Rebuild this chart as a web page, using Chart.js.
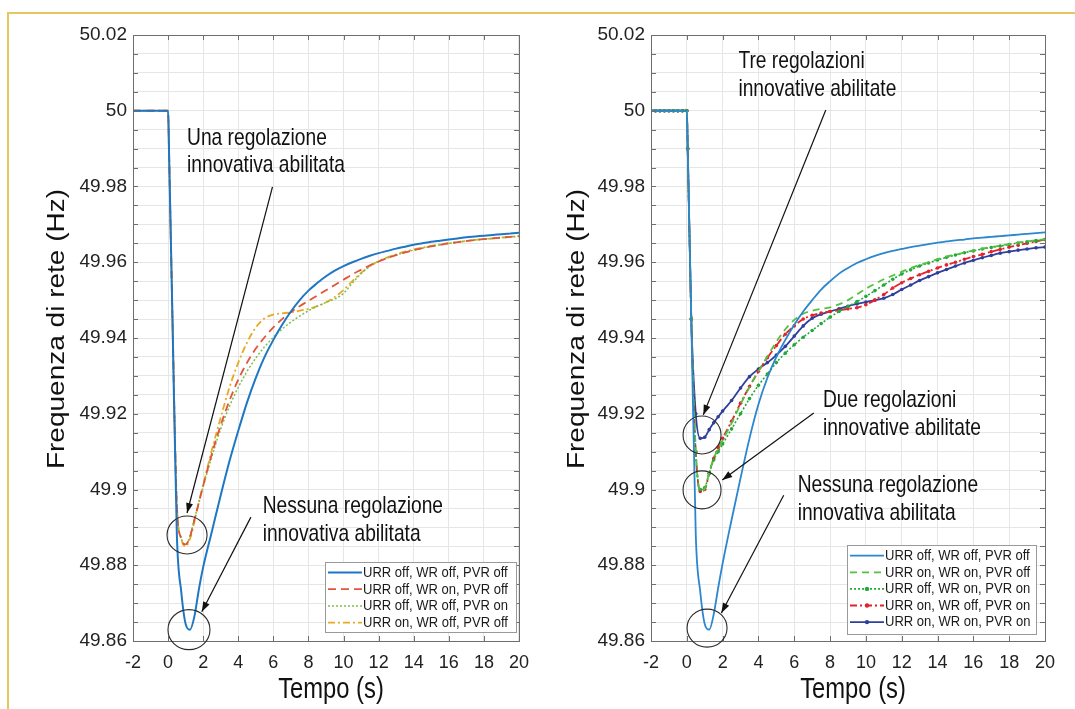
<!DOCTYPE html>
<html><head><meta charset="utf-8">
<script src="https://cdn.jsdelivr.net/npm/chart.js@4.4.1/dist/chart.umd.min.js"></script>
<style>
html,body{margin:0;padding:0;background:#fff;width:1075px;height:709px;overflow:hidden;position:relative;}
#frame{position:absolute;left:7px;top:12px;width:1080px;height:720px;border-top:2px solid #e5c75e;border-left:2px solid #e5c75e;}
#c1{position:absolute;left:0;top:0;}
#c2{position:absolute;left:518px;top:0;}
</style></head><body>
<div id="frame"></div>
<canvas id="c1" width="540" height="709"></canvas>
<canvas id="c2" width="557" height="709"></canvas>
<script>
// ---------------- DATA ----------------
const T = [-2,-1.75,-1.5,-1.25,-1,-0.75,-0.5,-0.25,0,0.05,0.25,0.5,0.75,1,1.25,1.5,1.75,2,2.5,3,3.5,4,4.5,5,5.5,6,6.5,7,7.5,8,8.5,9,9.5,10,10.5,11,11.5,12,12.5,13,13.5,14,14.5,15,15.5,16,16.5,17,17.5,18,18.5,19,19.5,20];
const PRE = [50,50,50,50,50,50,50,50,50];

// Left panel
const leftBlue = PRE.concat([49.99,49.945,49.888,49.873,49.8645,49.863,49.8665,49.8735,49.8795,49.889,49.8985,49.9075,49.9155,49.923,49.9295,49.935,49.9395,49.9435,49.947,49.95,49.9525,49.9545,49.9563,49.9578,49.959,49.96,49.9609,49.9617,49.9624,49.963,49.9636,49.9641,49.9646,49.965,49.9654,49.9657,49.966,49.9663,49.9666,49.9668,49.967,49.9672,49.9674,49.9676,49.9678]);
const leftRed = PRE.concat([49.99,49.945,49.896,49.887,49.8855,49.8875,49.892,49.8965,49.901,49.9095,49.917,49.9235,49.929,49.9335,49.9372,49.9402,49.9428,49.945,49.9468,49.9484,49.9498,49.9512,49.9526,49.954,49.9554,49.9568,49.958,49.9592,49.9602,49.9611,49.9619,49.9626,49.9632,49.9637,49.9642,49.9646,49.965,49.9653,49.9656,49.9659,49.9661,49.9663,49.9665,49.9667,49.9669]);
const leftGreen = PRE.concat([49.99,49.945,49.896,49.8872,49.8855,49.8878,49.8922,49.8965,49.9008,49.9088,49.916,49.922,49.927,49.9312,49.9347,49.9377,49.9402,49.9424,49.9442,49.9458,49.9472,49.9484,49.9494,49.9503,49.9518,49.9545,49.957,49.9589,49.9602,49.9611,49.9619,49.9626,49.9632,49.9637,49.9642,49.9646,49.965,49.9653,49.9656,49.9659,49.9661,49.9663,49.9665,49.9667,49.9668]);
const leftOrange = PRE.concat([49.99,49.945,49.896,49.887,49.885,49.887,49.8915,49.8965,49.9012,49.9105,49.919,49.927,49.9335,49.9388,49.9428,49.9452,49.9462,49.9465,49.9468,49.9472,49.9477,49.9484,49.9494,49.9508,49.9527,49.955,49.9572,49.959,49.9603,49.9613,49.9621,49.9628,49.9634,49.9639,49.9643,49.9647,49.965,49.9653,49.9656,49.9659,49.9661,49.9663,49.9665,49.9667,49.9669]);

// Right panel
const rightBlue = PRE.concat([49.99,49.945,49.888,49.873,49.8645,49.863,49.867,49.874,49.8805,49.892,49.903,49.9135,49.9225,49.9295,49.935,49.9395,49.9435,49.947,49.95,49.9528,49.955,49.957,49.9585,49.9598,49.9608,49.9617,49.9624,49.963,49.9635,49.964,49.9644,49.9648,49.9652,49.9655,49.9658,49.966,49.9663,49.9665,49.9667,49.9669,49.9671,49.9673,49.9675,49.9677,49.9679]);
const rightGreenDash = PRE.concat([49.99,49.945,49.91,49.8995,49.9002,49.9045,49.9082,49.9108,49.913,49.9175,49.9225,49.927,49.9312,49.9352,49.939,49.9423,49.9448,49.9464,49.9472,49.9477,49.9481,49.9489,49.95,49.9515,49.953,49.9543,49.9555,49.9565,49.9575,49.9585,49.9593,49.96,49.9608,49.9615,49.962,49.9626,49.9631,49.9636,49.964,49.9644,49.9648,49.9652,49.9655,49.9658,49.9661]);
const rightGreenDot = PRE.concat([49.99,49.945,49.91,49.9,49.9005,49.9042,49.9078,49.91,49.912,49.916,49.92,49.924,49.9275,49.9305,49.9335,49.936,49.9382,49.9402,49.942,49.9438,49.9455,49.947,49.9483,49.9496,49.951,49.9525,49.954,49.9555,49.9569,49.958,49.959,49.9598,49.9606,49.9613,49.9619,49.9625,49.963,49.9635,49.9639,49.9643,49.9647,49.9651,49.9654,49.9657,49.966]);
const rightRed = PRE.concat([49.99,49.945,49.91,49.8995,49.9,49.9042,49.9082,49.911,49.9135,49.918,49.9228,49.9272,49.9312,49.9348,49.938,49.941,49.9432,49.945,49.946,49.9466,49.947,49.9473,49.9477,49.948,49.9488,49.95,49.9515,49.9532,49.9546,49.9557,49.9567,49.9576,49.9585,49.9593,49.96,49.9608,49.9615,49.9621,49.9628,49.9634,49.964,49.9645,49.965,49.9655,49.966]);
const rightNavy = PRE.concat([49.99,49.945,49.92,49.9135,49.9138,49.9158,49.9176,49.9192,49.9207,49.9235,49.9268,49.9298,49.9318,49.9335,49.9355,49.9378,49.9405,49.9432,49.9452,49.9463,49.947,49.9477,49.9484,49.949,49.9495,49.95,49.9505,49.9515,49.9528,49.954,49.9552,49.9562,49.9572,49.9581,49.959,49.9598,49.9605,49.9612,49.9618,49.9624,49.9628,49.9632,49.9635,49.9638,49.964]);

const xTicks = {min:-2, max:20, step:2};
const yTicks = {min:49.86, max:50.02, minorStep:0.005, labelStep:0.02};

const leftLabels = ['URR off, WR off, PVR off','URR off, WR on, PVR off','URR off, WR off, PVR on','URR on, WR off, PVR off'];
const rightLabels = ['URR off, WR off, PVR off','URR on, WR on, PVR off','URR off, WR on, PVR on','URR on, WR off, PVR on','URR on, WR on, PVR on'];

const xTitle = 'Tempo (s)';
const yTitle = 'Frequenza di rete (Hz)';

// ---------------- HELPERS ----------------
const SANS = "'Liberation Sans',Arial,Helvetica,sans-serif";
function pts(v){ return T.map((t,i)=>({x:t,y:v[i]})); }
function ds(label, v, color, dash, width, dot){
  return {label, data: pts(v), borderColor: color, backgroundColor: color, borderDash: dash, borderWidth: width,
    pointRadius: dot ? 1.8 : 0, pointHoverRadius: 0, pointBorderWidth: 0, pointBackgroundColor: color,
    cubicInterpolationMode: 'monotone', fill: false};
}
// condensed text: real text, horizontally compressed
function narrowText(ctx, s, x, y, size, sx){
  ctx.save(); ctx.translate(x,y); ctx.scale(sx,1); ctx.font=size+'px '+SANS; ctx.fillText(s,0,0); ctx.restore();
}
function drawArrow(ctx,x1,y1,x2,y2){
  ctx.beginPath(); ctx.moveTo(x1,y1); ctx.lineTo(x2,y2); ctx.stroke();
  const a=Math.atan2(y2-y1,x2-x1), L=10, W=3.5;
  ctx.beginPath(); ctx.moveTo(x2,y2);
  ctx.lineTo(x2-L*Math.cos(a)+W*Math.sin(a), y2-L*Math.sin(a)-W*Math.cos(a));
  ctx.lineTo(x2-L*Math.cos(a)-W*Math.sin(a), y2-L*Math.sin(a)+W*Math.cos(a));
  ctx.closePath(); ctx.fill();
}

function decor(cfg){
  return {
    id:'decor',
    afterDatasetsDraw(chart){
      const ctx=chart.ctx, xs=chart.scales.x, ys=chart.scales.y, a=chart.chartArea;
      ctx.save();
      // axis box + inward ticks
      ctx.strokeStyle='#6e6e6e'; ctx.lineWidth=1;
      ctx.strokeRect(Math.round(a.left)+0.5, Math.round(a.top)+0.5, Math.round(a.right-a.left), Math.round(a.bottom-a.top));
      ctx.beginPath();
      xs.ticks.forEach(t=>{const p=Math.round(xs.getPixelForValue(t.value))+0.5;
        ctx.moveTo(p,a.bottom); ctx.lineTo(p,a.bottom-5); ctx.moveTo(p,a.top); ctx.lineTo(p,a.top+5);});
      ys.ticks.forEach(t=>{const p=Math.round(ys.getPixelForValue(t.value))+0.5;
        ctx.moveTo(a.left,p); ctx.lineTo(a.left+5,p); ctx.moveTo(a.right,p); ctx.lineTo(a.right-5,p);});
      ctx.stroke();
      // circles
      ctx.strokeStyle='#2a2a2a'; ctx.fillStyle='#111'; ctx.lineWidth=1.1;
      cfg.circles.forEach(c=>{ctx.beginPath(); ctx.ellipse(xs.getPixelForValue(c.x), ys.getPixelForValue(c.y), c.rx, c.ry, 0, 0, Math.PI*2); ctx.stroke();});
      // arrows
      ctx.strokeStyle='#111'; ctx.lineWidth=1.2;
      cfg.arrows.forEach(r=>drawArrow(ctx, xs.getPixelForValue(r.x1), ys.getPixelForValue(r.y1), xs.getPixelForValue(r.x2), ys.getPixelForValue(r.y2)));
      // annotation texts
      ctx.fillStyle='#111'; ctx.textAlign='left'; ctx.textBaseline='alphabetic';
      cfg.texts.forEach(t=>{const x=xs.getPixelForValue(t.x), y=ys.getPixelForValue(t.y);
        t.lines.forEach((ln,i)=>narrowText(ctx, ln, x, y+i*t.lh, 24, 0.8));});
      // axis titles
      ctx.fillStyle='#111'; ctx.textAlign='center'; ctx.textBaseline='middle';
      narrowText(ctx, xTitle, (a.left+a.right)/2 + 5, cfg.xTitleY, 29, 0.82);
      ctx.save(); ctx.translate(cfg.yTitleX, (a.top+a.bottom)/2 - 9); ctx.rotate(-Math.PI/2); ctx.scale(1,0.85);
      ctx.font='28px '+SANS; ctx.fillText(yTitle,0,0); ctx.restore();
      // legend
      const L=cfg.legend;
      const bx=a.right-L.dr-L.w, by=a.bottom-L.db-L.h;
      ctx.fillStyle='#fff'; ctx.fillRect(bx,by,L.w,L.h);
      ctx.strokeStyle='#9a9a9a'; ctx.lineWidth=1; ctx.strokeRect(Math.round(bx)+0.5,Math.round(by)+0.5,L.w,L.h);
      ctx.textAlign='left'; ctx.textBaseline='middle';
      chart.data.datasets.forEach((d,i)=>{
        const yy=by+L.first+i*L.pitch;
        ctx.save(); ctx.strokeStyle=d.borderColor; ctx.lineWidth=d.borderWidth; ctx.setLineDash(d.borderDash||[]);
        ctx.beginPath(); ctx.moveTo(bx+3,yy); ctx.lineTo(bx+37,yy); ctx.stroke(); ctx.restore();
        if(d.pointRadius>0){ctx.fillStyle=d.borderColor; ctx.beginPath(); ctx.arc(bx+20,yy,2.2,0,Math.PI*2); ctx.fill();}
        ctx.fillStyle='#1a1a1a'; narrowText(ctx, d.label, bx+38, yy+0.5, 14, 0.93);
      });
      ctx.restore();
    }
  };
}

function options(rightPad){
  return {
    responsive:false, animation:false, devicePixelRatio:1,
    layout:{padding:{left:0,right:rightPad,top:35,bottom:0}},
    plugins:{legend:{display:false}, tooltip:{enabled:false}},
    scales:{
      x:{type:'linear', min:xTicks.min, max:xTicks.max,
        afterFit(s){s.height=68;},
        ticks:{stepSize:xTicks.step, autoSkip:false, maxRotation:0, padding:11, color:'#222', font:{family:SANS,size:18},
          callback:v=>String(v)},
        grid:{color:'#e6e6e6', lineWidth:1, drawTicks:false},
        border:{display:false}},
      y:{type:'linear', min:yTicks.min, max:yTicks.max,
        afterFit(s){s.width=133;},
        ticks:{stepSize:yTicks.minorStep, autoSkip:false, padding:6, color:'#222', font:{family:SANS,size:19},
          callback:v=>{const k=v/yTicks.labelStep, r=Math.round(k); return Math.abs(k-r)<1e-6 ? String(Math.round(v*100)/100) : '';}},
        grid:{color:'#e6e6e6', lineWidth:1, drawTicks:false},
        border:{display:false}}
    }
  };
}

// ---------------- LEFT CHART ----------------
new Chart(document.getElementById('c1'), {
  type:'line',
  data:{datasets:[
    ds(leftLabels[0], leftBlue, '#1f77c4', [], 2, false),
    ds(leftLabels[1], leftRed, '#e2553c', [8,5], 1.8, false),
    ds(leftLabels[2], leftGreen, '#7fbf4a', [2,2], 1.5, false),
    ds(leftLabels[3], leftOrange, '#e8aa24', [7,3,2,3], 1.8, false)
  ]},
  options: options(14),
  plugins:[decor({
    xTitleY:690, yTitleX:57,
    circles:[{x:1.08,y:49.888,rx:20,ry:19},{x:1.19,y:49.863,rx:21,ry:20}],
    arrows:[{x1:5.95,y1:49.9799,x2:1.08,y2:49.8938},{x1:4.72,y1:49.8927,x2:1.92,y2:49.8677}],
    texts:[{x:1.08,y:49.991,lh:27,lines:['Una regolazione','innovativa abilitata']},
           {x:5.39,y:49.8938,lh:28,lines:['Nessuna regolazione','innovativa abilitata']}],
    legend:{w:191,h:70,dr:3,db:9,first:10.5,pitch:16.7}
  })]
});

// ---------------- RIGHT CHART ----------------
new Chart(document.getElementById('c2'), {
  type:'line',
  data:{datasets:[
    ds(rightLabels[0], rightBlue, '#2a86cf', [], 1.8, false),
    ds(rightLabels[1], rightGreenDash, '#55c040', [7,5], 1.8, false),
    ds(rightLabels[2], rightGreenDot, '#23a83a', [2,2], 1.6, true),
    ds(rightLabels[3], rightRed, '#e3232b', [7,3,2,3], 1.8, true),
    ds(rightLabels[4], rightNavy, '#2e3f9c', [], 1.8, true)
  ]},
  options: options(30),
  plugins:[decor({
    xTitleY:690, yTitleX:59,
    circles:[{x:0.85,y:49.9144,rx:19,ry:19},{x:0.85,y:49.8999,rx:19,ry:19},{x:1.13,y:49.8634,rx:20,ry:19}],
    arrows:[{x1:7.76,y1:50.0002,x2:0.92,y2:49.9197},{x1:7.09,y1:49.9202,x2:1.98,y2:49.9025},{x1:5.41,y1:49.8985,x2:1.93,y2:49.8674}],
    texts:[{x:2.88,y:50.0113,lh:28,lines:['Tre regolazioni','innovative abilitate']},
           {x:7.6,y:49.9218,lh:28,lines:['Due regolazioni','innovative abilitate']},
           {x:6.19,y:49.8993,lh:28,lines:['Nessuna regolazione','innovativa abilitata']}],
    legend:{w:189,h:89,dr:9,db:7,first:10.7,pitch:16.6}
  })]
});
</script>
</body></html>
